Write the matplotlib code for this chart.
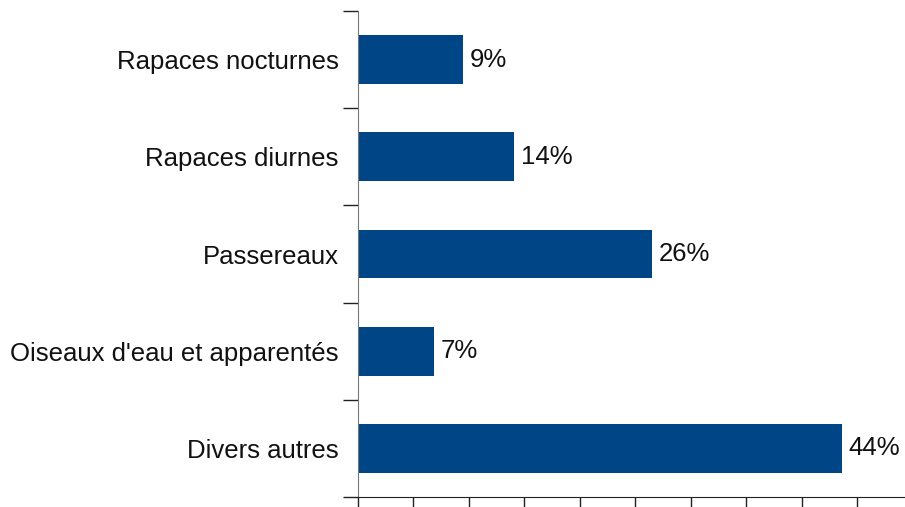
import numpy as np
import matplotlib.pyplot as plt

plt.rcParams['font.family'] = ['Liberation Sans', 'DejaVu Sans']

categories = ["Divers autres", "Oiseaux d'eau et apparentés", "Passereaux",
              "Rapaces diurnes", "Rapaces nocturnes"]
values = [43.6, 6.85, 26.5, 14.05, 9.43]
value_labels = ["44%", "7%", "26%", "14%", "9%"]

fig = plt.figure(figsize=(9.05, 5.07), dpi=100)
ax = fig.add_axes([358 / 905, 10 / 507, 547 / 905, 486 / 507])

y = np.arange(len(categories))
ax.barh(y, values, height=0.5, color="#004586")

for yi, v, lab in zip(y, values, value_labels):
    ax.text(v + 0.6, yi, lab, va="center", ha="left", fontsize=18.5, color="#111111")

ax.set_xlim(0, 49.3)
ax.set_ylim(-0.5, len(categories) - 0.5)

# category names at bar centres, tick marks on the boundaries
ax.set_yticks(np.arange(-0.5, len(categories)), labels=[])
ax.set_yticks(y, labels=categories, minor=True)
ax.tick_params(axis="y", which="major", direction="out", length=11, width=1, color="#222222")
ax.tick_params(axis="y", which="minor", length=0, pad=14, labelsize=18.5, labelcolor="#111111")

ax.set_xticks(np.arange(0, 50, 5), labels=[])
ax.tick_params(axis="x", direction="out", length=11, width=1, color="#222222")

for s in ["top", "right"]:
    ax.spines[s].set_visible(False)
ax.spines["left"].set_color("#777777")
ax.spines["bottom"].set_color("#222222")

fig.savefig("out.png", dpi=100)
